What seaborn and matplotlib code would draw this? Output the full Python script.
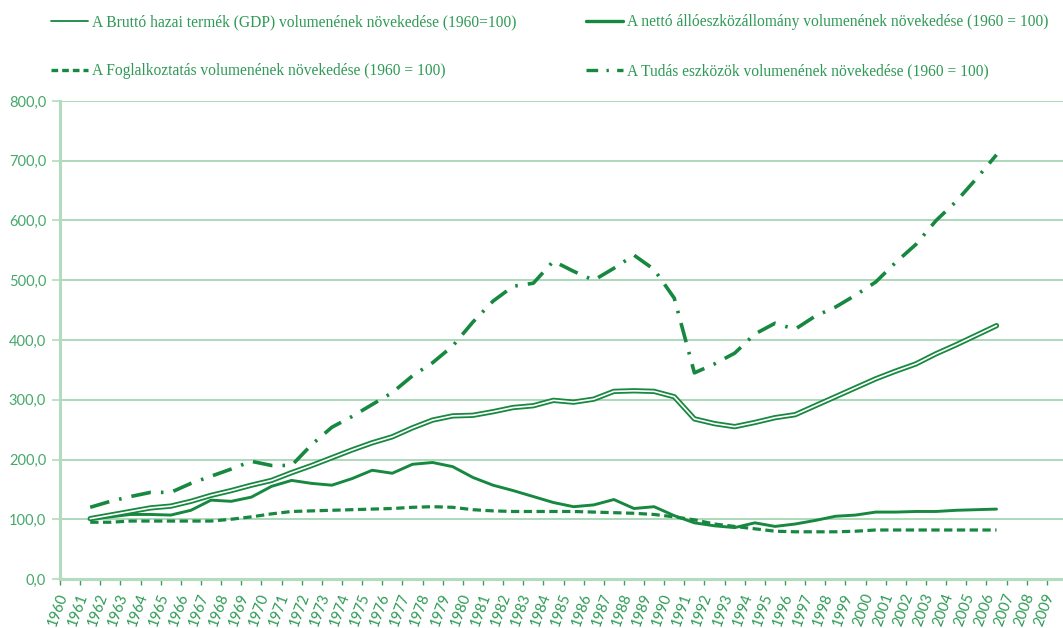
import matplotlib
matplotlib.use("Agg")
import matplotlib.pyplot as plt
import matplotlib.patheffects as pe
from matplotlib.lines import Line2D
from matplotlib.ticker import FixedLocator, FuncFormatter
import seaborn as sns
import pandas as pd

# ---------------- data ----------------
years = list(range(1961, 2007))
tick_years = list(range(1960, 2010))

gdp = [101, 107, 113, 119, 122, 130, 140, 148, 157, 165,
       178, 190, 203, 216, 228, 238, 253, 266, 273, 274,
       280, 287, 290, 299, 296, 301, 314, 315, 314, 305,
       268, 260, 255, 262, 270, 275, 290, 305, 320, 335,
       348, 360, 377, 392, 408, 424]
net_assets = [100, 104, 108, 108, 107, 115, 132, 130, 137, 155,
              165, 160, 157, 168, 182, 177, 192, 195, 188, 170,
              157, 148, 138, 128, 121, 124, 133, 118, 121, 106,
              94, 89, 86, 94, 88, 92, 98, 105, 107, 112,
              112, 113, 113, 115, 116, 117]
employment = [95, 95, 97, 97, 97, 97, 97, 100, 104, 109,
              113, 114, 115, 116, 117, 118, 120, 121, 120, 116,
              114, 113, 113, 113, 113, 112, 111, 110, 108, 104,
              99, 92, 88, 84, 80, 79, 79, 79, 80, 82,
              82, 82, 82, 82, 82, 82]
knowledge = [120, 130, 138, 145, 145, 160, 172, 184, 197, 190,
             190, 225, 254, 272, 292, 312, 340, 362, 390, 430,
             465, 490, 495, 532, 515, 500, 520, 542, 518, 470,
             345, 360, 378, 410, 428, 418, 440, 455, 475, 497,
             530, 560, 600, 632, 670, 710]

labels = [
    "A Bruttó hazai termék (GDP) volumenének növekedése (1960=100)",
    "A nettó állóeszközállomány volumenének növekedése (1960 = 100)",
    "A Foglalkoztatás volumenének növekedése (1960 = 100)",
    "A Tudás eszközök volumenének növekedése (1960 = 100)",
]

df = pd.DataFrame({"year": years, "gdp": gdp, "net": net_assets,
                   "emp": employment, "know": knowledge})

# ---------------- style ----------------
sns.set_theme(style="white")
LINE = "#17883f"
TEXT = "#2e9a55"
YTXT = "#45a86a"
GRID = "#a6d6b3"
SPINE = "#b3dcbf"

fig = plt.figure(figsize=(10.63, 6.28), dpi=100)
ax = fig.add_axes([60 / 1063, 49 / 628, 1007 / 1063, 478 / 628])

# GDP: double (hollow) line
sns.lineplot(data=df, x="year", y="gdp", ax=ax, color="white", linewidth=1.2,
             path_effects=[pe.Stroke(linewidth=3.8, foreground=LINE), pe.Normal()],
             zorder=4)
sns.lineplot(data=df, x="year", y="net", ax=ax, color=LINE, linewidth=2.1, zorder=3)
sns.lineplot(data=df, x="year", y="emp", ax=ax, color=LINE, linewidth=2.3,
             dashes=(2.6, 1.4), zorder=3)
sns.lineplot(data=df, x="year", y="know", ax=ax, color=LINE, linewidth=2.6,
             dashes=(5.5, 2.8, 0.7, 2.8), zorder=3)

ax.set_xlim(1959.5, 2009.5)
ax.set_ylim(0, 800)
ax.set_xlabel("")
ax.set_ylabel("")

# y axis
ax.set_yticks(range(0, 801, 100))
ax.yaxis.set_major_formatter(FuncFormatter(lambda v, p: f"{v:.1f}".replace(".", ",")))
ax.tick_params(axis="y", which="major", left=True, length=6, width=1.2,
               color=SPINE, labelcolor=YTXT, labelsize=10.5, pad=4, direction="out")
for t in ax.get_yticklabels():
    t.set_fontfamily("Lato")
ax.yaxis.grid(True, color=GRID, linewidth=1.3)
ax.xaxis.grid(False)

# x axis: labels at category centers, ticks at boundaries
ax.xaxis.set_major_locator(FixedLocator(tick_years))
ax.set_xticklabels([str(y) for y in tick_years])
ax.xaxis.set_minor_locator(FixedLocator([y - 0.5 for y in tick_years]))
ax.tick_params(axis="x", which="major", bottom=True, length=0, pad=9,
               labelcolor=TEXT, labelsize=10.5)
ax.tick_params(axis="x", which="minor", bottom=True, length=4, width=1.0,
               color="#3f9e5f", direction="out")
for t in ax.get_xticklabels():
    t.set_rotation(70)
    t.set_ha("right")
    t.set_va("top")
    t.set_fontfamily("Lato")

for s in ["top", "right"]:
    ax.spines[s].set_visible(False)
ax.spines["left"].set_color(SPINE)
ax.spines["left"].set_linewidth(2.2)
ax.spines["bottom"].set_color(SPINE)
ax.spines["bottom"].set_linewidth(2.2)

# legend: two columns placed independently
h_gdp = Line2D([], [], color=LINE, linewidth=1.3)
h_net = Line2D([], [], color=LINE, linewidth=2.4)
h_emp = Line2D([], [], color=LINE, linewidth=2.4, dashes=(2.0, 1.2))
h_know = Line2D([], [], color=LINE, linewidth=2.4, dashes=(3.5, 2.5, 0.7, 2.5))
common = dict(loc="upper left", frameon=False, handlelength=2.4,
              handletextpad=0.25, labelspacing=2.15,
              prop={"family": "Liberation Serif", "size": 11.2})
leg1 = fig.legend([h_gdp, h_emp], [labels[0], labels[2]],
                  bbox_to_anchor=(0.0348, 1.0), **common)
leg2 = fig.legend([h_net, h_know], [labels[1], labels[3]],
                  bbox_to_anchor=(0.5381, 1.0), **common)
for lg in (leg1, leg2):
    for t in lg.get_texts():
        t.set_color(TEXT)

fig.savefig("out.png", dpi=100)
